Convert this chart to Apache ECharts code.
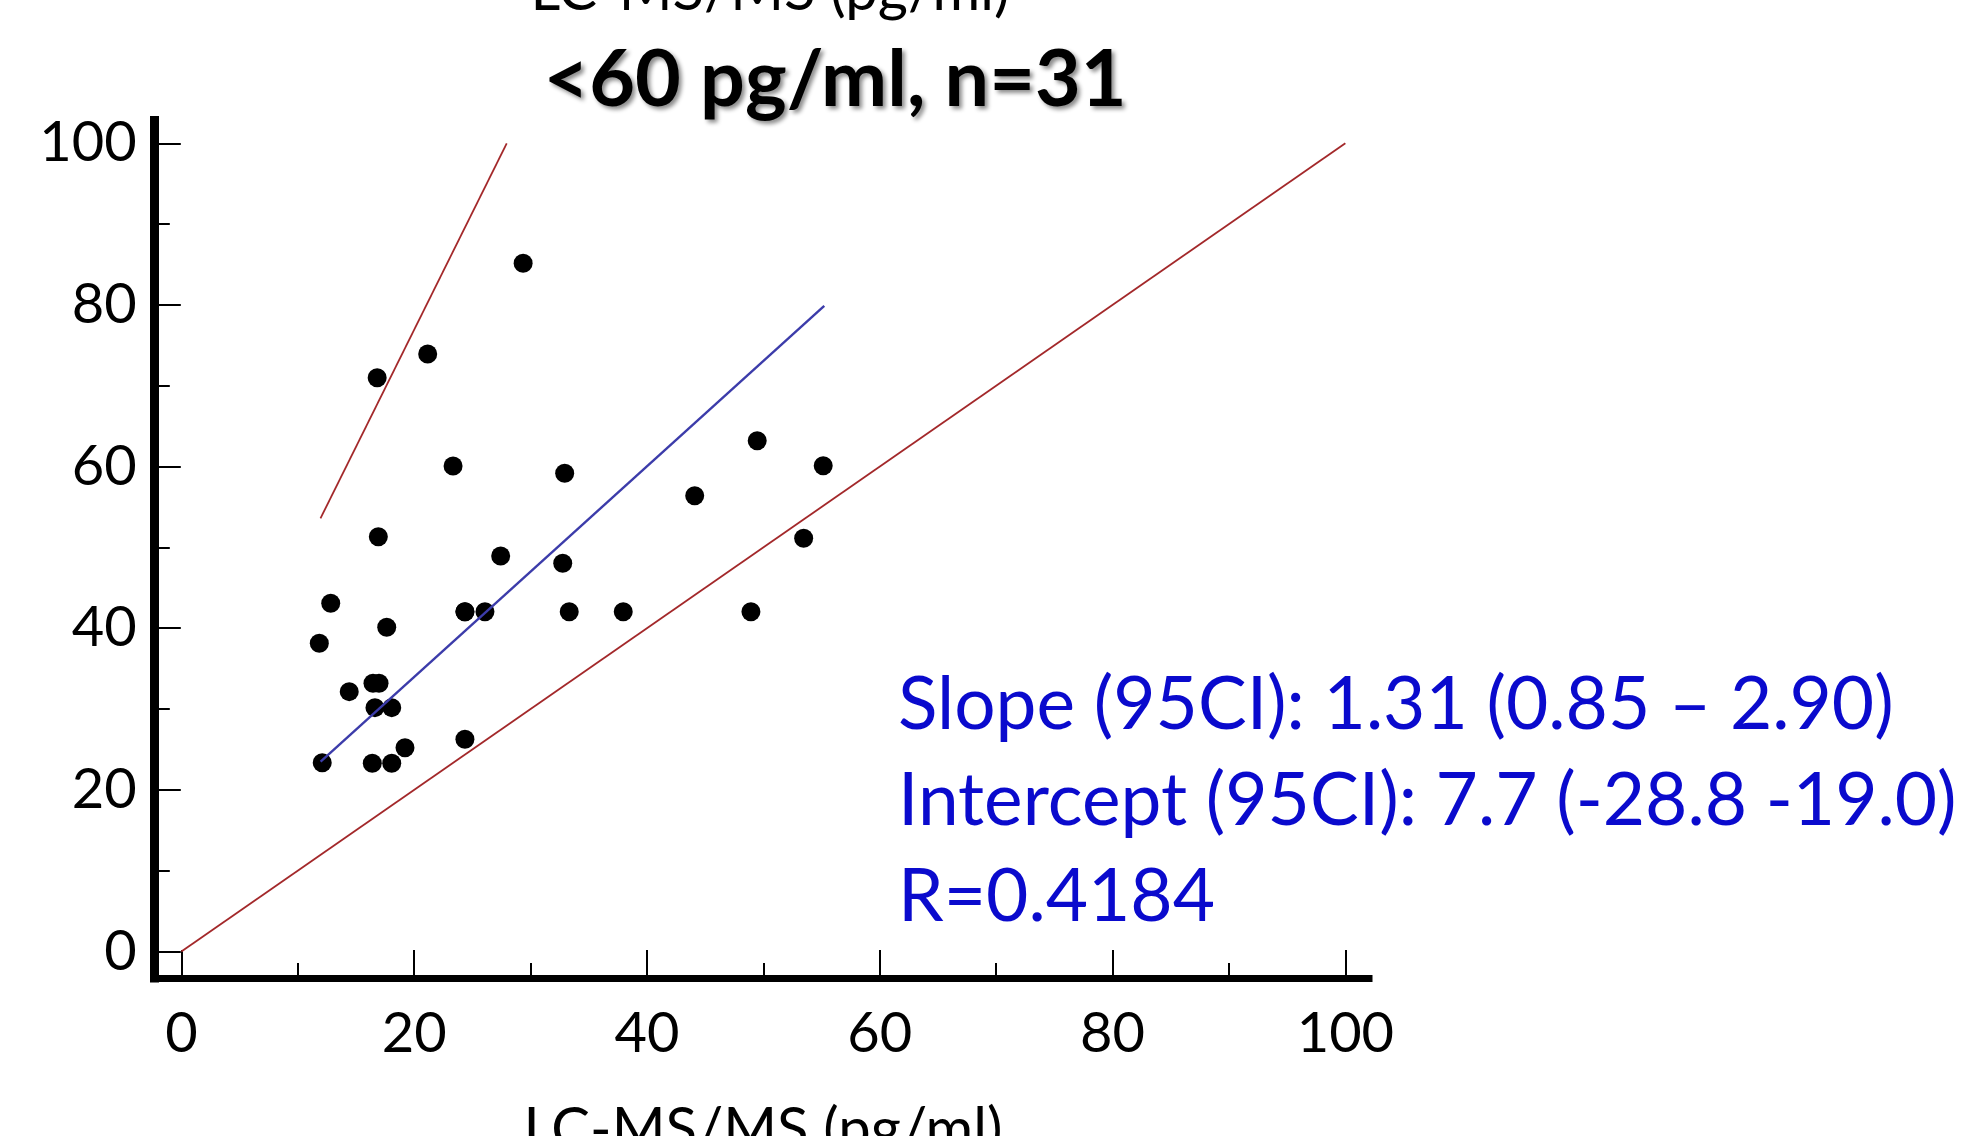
<!DOCTYPE html>
<html>
<head>
<meta charset="utf-8">
<script src="https://cdn.jsdelivr.net/npm/echarts@6/dist/echarts.min.js"></script>
<style>
html,body{margin:0;padding:0;background:#fff;}
#chart{width:1962px;height:1136px;}
</style>
</head>
<body>
<div id="chart"></div>
<script>
// ---- data ----
const pointsX = [29.36, 21.16, 16.82, 23.34, 32.93, 49.47, 55.14, 44.1, 53.46, 16.92,
                 27.43, 32.76, 12.83, 24.36, 26.08, 33.32, 37.96, 48.93, 17.64, 11.85,
                 16.46, 16.98, 14.42, 16.63, 18.07, 24.36, 19.21, 12.1, 16.4, 18.07, 24.36];
const pointsY = [85.15, 73.93, 71.0, 60.07, 59.17, 63.2, 60.1, 56.4, 51.13, 51.32,
                 48.94, 48.03, 43.08, 42.04, 42.04, 42.04, 42.04, 42.04, 40.11, 38.13,
                 33.18, 33.18, 32.15, 30.17, 30.17, 26.26, 25.22, 23.36, 23.29, 23.29, 42.04];
const identityLine = [[0, 0], [100, 100]];
const upperCILine = [[11.95, 53.6], [27.95, 100]];
const regressionLine = [[11.96, 23.48], [55.23, 79.87]];
const majorTicks = [0, 20, 40, 60, 80, 100];
const minorTicks = [10, 30, 50, 70, 90];
const titleText = '<60 pg/ml, n=31';
const axisTitle = 'LC-MS/MS (pg/ml)';
const statsLines = ['Slope (95CI): 1.31 (0.85 – 2.90)', 'Intercept (95CI): 7.7 (-28.8 -19.0)', 'R=0.4184'];

const scatterData = pointsX.map((x, i) => [x, pointsY[i]]);

const FONT = 'Lato';
const X_MIN = -2.37, X_MAX = 102.03, Y_MIN = -3.28, Y_MAX = 102.82;

function xAxisCfg(ticks, len, showLine, showLabel) {
  return {
    type: 'value', min: X_MIN, max: X_MAX, position: 'bottom',
    axisLine: { show: showLine, onZero: false, lineStyle: { color: '#000', width: 7, cap: 'square' } },
    axisTick: { show: true, inside: true, length: len, customValues: ticks, lineStyle: { color: '#000', width: 2 } },
    axisLabel: { show: showLabel, customValues: ticks, margin: 28, fontFamily: FONT, fontSize: 56, color: '#000' },
    splitLine: { show: false }
  };
}
function yAxisCfg(ticks, len, showLine, showLabel) {
  return {
    type: 'value', min: Y_MIN, max: Y_MAX, position: 'left',
    axisLine: { show: showLine, onZero: false, lineStyle: { color: '#000', width: 9, cap: 'square' } },
    axisTick: { show: true, inside: true, length: len, customValues: ticks, lineStyle: { color: '#000', width: 2 } },
    axisLabel: { show: showLabel, customValues: ticks, margin: 17, fontFamily: FONT, fontSize: 56, color: '#000' },
    splitLine: { show: false }
  };
}

const chart = echarts.init(document.getElementById('chart'), null, { renderer: 'canvas' });
chart.setOption({
  backgroundColor: '#fff',
  animation: false,
  grid: { left: 153.8, right: 593, top: 120.5, bottom: 158, containLabel: false },
  xAxis: [xAxisCfg(majorTicks, 28, true, true), xAxisCfg(minorTicks, 15, false, false)],
  yAxis: [yAxisCfg(majorTicks, 27, true, true), yAxisCfg(minorTicks, 16, false, false)],
  series: [
    { type: 'scatter', data: scatterData, symbol: 'circle', symbolSize: 19,
      itemStyle: { color: '#000', opacity: 1 }, xAxisIndex: 0, yAxisIndex: 0 },
    { type: 'line', data: identityLine, showSymbol: false, xAxisIndex: 0, yAxisIndex: 0,
      lineStyle: { color: '#a3282a', width: 1.8 } },
    { type: 'line', data: upperCILine, showSymbol: false, xAxisIndex: 0, yAxisIndex: 0,
      lineStyle: { color: '#a3282a', width: 1.8 } },
    { type: 'line', data: regressionLine, showSymbol: false, xAxisIndex: 0, yAxisIndex: 0,
      lineStyle: { color: '#3c3caa', width: 2.4 } }
  ],
  graphic: [
    { type: 'text', x: 770, y: 10 - 0.3225 * 58,
      style: { text: axisTitle, fontFamily: FONT, fontSize: 58, fill: '#000', align: 'center', verticalAlign: 'middle' } },
    { type: 'text', x: 835, y: 106 - 0.3225 * 79,
      style: { text: titleText, fontFamily: FONT, fontSize: 79, fontWeight: 'bold', fill: '#000',
               align: 'center', verticalAlign: 'middle',
               textShadowColor: 'rgba(0,0,0,0.45)', textShadowBlur: 4, textShadowOffsetX: 3, textShadowOffsetY: 3 } },
    { type: 'text', x: 898, y: 729 - 0.3225 * 73,
      style: { text: statsLines[0], fontFamily: FONT, fontSize: 73, fill: '#0a0acd', align: 'left', verticalAlign: 'middle' } },
    { type: 'text', x: 898, y: 825 - 0.3225 * 73,
      style: { text: statsLines[1], fontFamily: FONT, fontSize: 73, fill: '#0a0acd', align: 'left', verticalAlign: 'middle' } },
    { type: 'text', x: 898, y: 921 - 0.3225 * 73,
      style: { text: statsLines[2], fontFamily: FONT, fontSize: 73, fill: '#0a0acd', align: 'left', verticalAlign: 'middle' } },
    { type: 'text', x: 763, y: 1149 - 0.3225 * 58,
      style: { text: axisTitle, fontFamily: FONT, fontSize: 58, fill: '#000', align: 'center', verticalAlign: 'middle' } }
  ]
});
</script>
</body>
</html>
